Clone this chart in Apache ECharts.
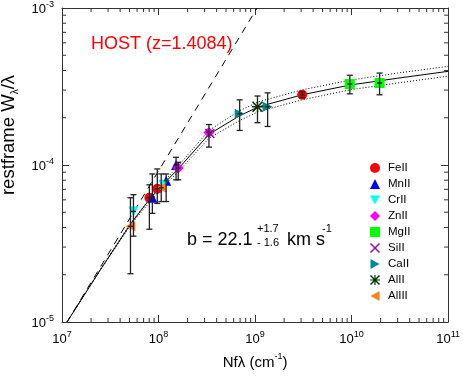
<!DOCTYPE html>
<html>
<head>
<meta charset="utf-8">
<script src="https://cdn.jsdelivr.net/npm/echarts@6/dist/echarts.min.js"></script>
<style>
  html, body { margin: 0; padding: 0; background: #fff; }
  #chart-container { width: 463px; height: 377px; }
</style>
</head>
<body>
<div id="chart-container"></div>
<script>
var dom = document.getElementById("chart-container");
var myChart = echarts.init(dom, null, { renderer: "canvas" });

const FONT = "Liberation Sans, Arial, sans-serif";

// axis ranges
const xMin = 1e7, xMax = 1e11;
const yMin = 1e-5, yMax = 1e-3;

// measured points [N f lambda, W/lambda]
const feII = [[8.04e7, 6.19e-5], [9.71e7, 7.06e-5], [3.08e9, 2.80e-4]];
const mnII = [[8.63e7, 6.19e-5], [1.20e8, 7.93e-5], [1.52e8, 1.00e-4]];
const crII = [[5.50e7, 5.06e-5], [1.12e8, 7.48e-5]];
const znII = [[1.60e8, 9.57e-5], [3.33e8, 1.61e-4]];
const mgII = [[9.59e9, 3.28e-4], [1.95e10, 3.33e-4]];
const siII = [[3.40e8, 1.59e-4]];
const caII = [[6.93e8, 2.12e-4], [1.35e9, 2.35e-4]];
const alII = [[1.06e9, 2.35e-4]];
const alIII = [[5.12e7, 4.07e-5], [1.067e8, 7.16e-5]];

// error bars [x, y, low, high]
const errorBars = [
  [5.12e7, 4.07e-5, 2.03e-5, 6.19e-5],
  [5.50e7, 5.06e-5, 3.52e-5, 6.47e-5],
  [8.04e7, 6.19e-5, 3.90e-5, 7.48e-5],
  [8.63e7, 6.19e-5, 4.92e-5, 8.77e-5],
  [9.71e7, 7.06e-5, 5.69e-5, 9.44e-5],
  [1.067e8, 7.16e-5, 5.85e-5, 8.77e-5],
  [1.20e8, 7.93e-5, 5.85e-5, 8.77e-5],
  [1.52e8, 1.00e-4, 8.05e-5, 1.12e-4],
  [1.60e8, 9.57e-5, 8.05e-5, 1.04e-4],
  [3.33e8, 1.61e-4, 1.30e-4, 1.81e-4],
  [6.93e8, 2.12e-4, 1.66e-4, 2.60e-4],
  [1.06e9, 2.35e-4, 1.86e-4, 2.75e-4],
  [1.35e9, 2.35e-4, 1.76e-4, 2.88e-4],
  [3.08e9, 2.80e-4, 2.68e-4, 2.92e-4],
  [9.59e9, 3.28e-4, 2.84e-4, 3.73e-4],
  [1.95e10, 3.33e-4, 2.80e-4, 3.85e-4],
];

// linear part of the curve of growth
const linearLine = [[1.13e7, 1e-5], [1.05e9, 1e-3]];

// best fit curve (b = 22.1) and its bounds
const cogBest = [
  [1.126e7, 1.0e-5], [2.46e7, 2.12e-5], [5.12e7, 4.20e-5], [8.04e7, 6.03e-5],
  [9.94e7, 6.97e-5], [1.63e8, 9.57e-5], [3.33e8, 1.57e-4], [6.93e8, 2.06e-4],
  [1.09e9, 2.35e-4], [3.08e9, 2.80e-4], [9.59e9, 3.23e-4], [2.99e10, 3.57e-4],
  [1e11, 3.95e-4],
];
const cogUpper = [
  [1.126e7, 1.0e-5], [2.46e7, 2.14e-5], [5.12e7, 4.25e-5], [9.94e7, 7.16e-5],
  [1.63e8, 1.00e-4], [3.33e8, 1.66e-4], [6.93e8, 2.22e-4], [1.09e9, 2.53e-4],
  [3.08e9, 3.01e-4], [9.59e9, 3.47e-4], [2.99e10, 3.85e-4], [1e11, 4.25e-4],
];
const cogLower = [
  [1.126e7, 1.0e-5], [2.46e7, 2.11e-5], [5.12e7, 4.13e-5], [9.94e7, 6.76e-5],
  [1.63e8, 9.16e-5], [3.33e8, 1.48e-4], [6.93e8, 1.92e-4], [1.09e9, 2.19e-4],
  [3.08e9, 2.60e-4], [9.59e9, 3.01e-4], [2.99e10, 3.33e-4], [1e11, 3.68e-4],
];

const legendNames = ["FeII", "MnII", "CrII", "ZnII", "MgII", "SiII", "CaII", "AlII", "AlIII"];

// minor tick positions (axis decoration)
const minorSteps = [2, 3, 4, 5, 6, 7, 8, 9];
const xDecades = [7, 8, 9, 10];
const yDecades = [-5, -4];
const xMinor = [];
xDecades.forEach((d) => minorSteps.forEach((m) => xMinor.push([m * Math.pow(10, d), yMin])));
const yMinor = [];
yDecades.forEach((d) => minorSteps.forEach((m) => yMinor.push([xMin, m * Math.pow(10, d)])));

// symbols
const downTri = "path://M0,0L10,0L5,9Z";
const rightTri = "path://M0,0L9,5L0,10Z";
const leftTri = "path://M9,0L9,10L0,5Z";
const crossX = "path://M1,0L5,4L9,0L10,1L6,5L10,9L9,10L5,6L1,10L0,9L4,5L0,1Z";
const aster = "path://M0,4.4L10,4.4L10,5.6L0,5.6Z M4.4,0L5.6,0L5.6,10L4.4,10Z " +
  "M1,0L5,4L9,0L10,1L6,5L10,9L9,10L5,6L1,10L0,9L4,5L0,1Z";

function expLabel(v) {
  const e = Math.round(Math.log10(v));
  return "{b|10}{e|" + e + "}";
}
const tickRich = {
  b: { fontSize: 13, fontFamily: FONT, color: "#000", lineHeight: 16, verticalAlign: "bottom" },
  e: { fontSize: 9, fontFamily: FONT, color: "#000", lineHeight: 9, verticalAlign: "top" },
};

const axisLine = { show: true, lineStyle: { color: "#333", width: 1 } };

function scatter(name, data, symbol, size, color) {
  return {
    name: name,
    type: "scatter",
    data: data,
    symbol: symbol,
    symbolSize: size,
    itemStyle: { color: color, opacity: 1 },
    z: 3,
  };
}

function dataLine(data, type, width) {
  return {
    type: "line",
    data: data,
    showSymbol: false,
    symbol: "none",
    clip: true,
    silent: true,
    lineStyle: { color: "#000", width: width, type: type },
    z: 2,
  };
}

option = {
  animation: false,
  grid: { left: 62, right: 12, top: 4, bottom: 55 },
  xAxis: [
    {
      type: "log",
      logBase: 10,
      min: xMin,
      max: xMax,
      axisLine: axisLine,
      axisTick: { inside: true, length: 7, lineStyle: { color: "#333" } },
      axisLabel: { margin: 8, formatter: expLabel, rich: tickRich },
      splitLine: { show: false },
      name: "{m|Nf\u03bb (cm}{s|-1}{m|)}",
      nameLocation: "middle",
      nameGap: 30,
      nameTextStyle: {
        rich: {
          m: { fontSize: 15, fontFamily: FONT, color: "#000", lineHeight: 18, verticalAlign: "bottom" },
          s: { fontSize: 9, fontFamily: FONT, color: "#000", lineHeight: 9, verticalAlign: "top" },
        },
      },
    },
    {
      type: "log",
      logBase: 10,
      position: "top",
      min: xMin,
      max: xMax,
      axisLine: axisLine,
      axisTick: { inside: true, length: 7, lineStyle: { color: "#333" } },
      axisLabel: { show: false },
      splitLine: { show: false },
    },
  ],
  yAxis: [
    {
      type: "log",
      logBase: 10,
      min: yMin,
      max: yMax,
      axisLine: axisLine,
      axisTick: { inside: true, length: 7, lineStyle: { color: "#333" } },
      axisLabel: { margin: 8, formatter: expLabel, rich: tickRich },
      splitLine: { show: false },
    },
    {
      type: "log",
      logBase: 10,
      position: "right",
      min: yMin,
      max: yMax,
      axisLine: axisLine,
      axisTick: { inside: true, length: 7, lineStyle: { color: "#333" } },
      axisLabel: { show: false },
      splitLine: { show: false },
    },
  ],
  legend: {
    data: legendNames,
    orient: "vertical",
    left: 365,
    top: 157,
    itemWidth: 10,
    itemHeight: 10,
    itemGap: 4,
    selectedMode: false,
    textStyle: { fontSize: 11.5, fontFamily: FONT, color: "#000", lineHeight: 12, padding: [0, 0, 0, 3] },
  },
  graphic: [
    {
      type: "text",
      x: 91,
      y: 44,
      style: { text: "HOST (z=1.4084)", fill: "#ff0000", font: "18px " + FONT, verticalAlign: "middle" },
    },
    {
      type: "text",
      x: 10,
      y: 135,
      rotation: Math.PI / 2,
      style: {
        text: "{m|restframe W}{s|\u03bb}{m|/\u03bb}",
        align: "center",
        verticalAlign: "middle",
        rich: {
          m: { fontSize: 18.5, fontFamily: FONT, fill: "#000", lineHeight: 21, verticalAlign: "top" },
          s: { fontSize: 10, fontFamily: FONT, fill: "#000", lineHeight: 10, verticalAlign: "bottom" },
        },
      },
    },
    { type: "text", x: 187, y: 240, style: { text: "b = 22.1", fill: "#000", font: "18px " + FONT, verticalAlign: "middle" } },
    { type: "text", x: 257, y: 229, style: { text: "+1.7", fill: "#000", font: "11px " + FONT, verticalAlign: "middle" } },
    { type: "text", x: 257, y: 243, style: { text: "- 1.6", fill: "#000", font: "11px " + FONT, verticalAlign: "middle" } },
    { type: "text", x: 287, y: 240, style: { text: "km s", fill: "#000", font: "18px " + FONT, verticalAlign: "middle" } },
    { type: "text", x: 322, y: 229, style: { text: "-1", fill: "#000", font: "11px " + FONT, verticalAlign: "middle" } },
  ],
  series: [
    dataLine(linearLine, [7, 6], 1),
    dataLine(cogBest, "solid", 1),
    dataLine(cogUpper, [1, 2], 1),
    dataLine(cogLower, [1, 2], 1),
    scatter("FeII", feII, "circle", 10, "#ff0000"),
    scatter("MnII", mnII, "triangle", 10, "#0000ff"),
    scatter("CrII", crII, downTri, 10, "#00ffff"),
    scatter("ZnII", znII, "diamond", 11, "#ff00ff"),
    scatter("MgII", mgII, "rect", 10, "#00ff00"),
    scatter("SiII", siII, crossX, 10, "#99049b"),
    scatter("CaII", caII, rightTri, 10, "#008b8b"),
    scatter("AlII", alII, aster, 11, "#003300"),
    scatter("AlIII", alIII, leftTri, 10, "#ff7f1e"),
    {
      type: "custom",
      data: errorBars,
      encode: { x: 0, y: [1, 2, 3] },
      silent: true,
      z: 4,
      renderItem: function (params, api) {
        const x = api.value(0);
        const c = api.coord([x, api.value(1)]);
        const lo = api.coord([x, api.value(2)]);
        const hi = api.coord([x, api.value(3)]);
        const st = { stroke: "#222", lineWidth: 1.3 };
        return {
          type: "group",
          children: [
            { type: "line", shape: { x1: lo[0], y1: lo[1], x2: hi[0], y2: hi[1] }, style: st },
            { type: "line", shape: { x1: lo[0] - 3, y1: lo[1], x2: lo[0] + 3, y2: lo[1] }, style: st },
            { type: "line", shape: { x1: hi[0] - 3, y1: hi[1], x2: hi[0] + 3, y2: hi[1] }, style: st },
            { type: "line", shape: { x1: c[0] - 2.5, y1: c[1], x2: c[0] + 2.5, y2: c[1] }, style: st },
          ],
        };
      },
    },
    {
      type: "custom",
      data: xMinor,
      silent: true,
      z: 5,
      renderItem: function (params, api) {
        const p = api.coord([api.value(0), api.value(1)]);
        const top = params.coordSys.y;
        const st = { stroke: "#333", lineWidth: 1 };
        return {
          type: "group",
          children: [
            { type: "line", shape: { x1: p[0], y1: p[1], x2: p[0], y2: p[1] - 4 }, style: st },
            { type: "line", shape: { x1: p[0], y1: top, x2: p[0], y2: top + 4 }, style: st },
          ],
        };
      },
    },
    {
      type: "custom",
      data: yMinor,
      silent: true,
      z: 5,
      renderItem: function (params, api) {
        const p = api.coord([api.value(0), api.value(1)]);
        const right = params.coordSys.x + params.coordSys.width;
        const st = { stroke: "#333", lineWidth: 1 };
        return {
          type: "group",
          children: [
            { type: "line", shape: { x1: p[0], y1: p[1], x2: p[0] + 4, y2: p[1] }, style: st },
            { type: "line", shape: { x1: right, y1: p[1], x2: right - 4, y2: p[1] }, style: st },
          ],
        };
      },
    },
  ],
};

if (option && typeof option === "object") {
  myChart.setOption(option);
}

window.addEventListener("resize", myChart.resize);
</script>
</body>
</html>
